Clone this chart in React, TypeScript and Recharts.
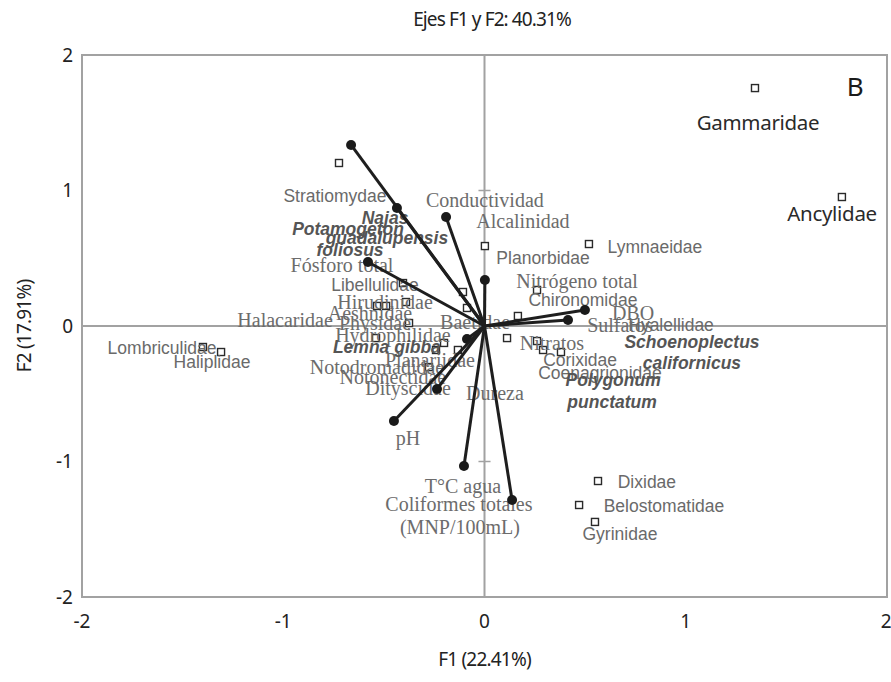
import React from 'react';
import {
  ScatterChart, Scatter, XAxis, YAxis, ReferenceLine, ReferenceArea, Label,
} from 'recharts';

// ---- data (F1, F2 coordinates) ----
const axisTicks = [-2, -1, 0, 1, 2];

// species / taxa points (open squares)
const taxaPoints = [
  { name: 'Gammaridae', x: 1.344, y: 1.756 },
  { name: 'Ancylidae', x: 1.776, y: 0.952 },
  { name: 'Lymnaeidae', x: 0.519, y: 0.605 },
  { name: 'Planorbidae', x: 0.002, y: 0.59 },
  { name: 'Chironomidae', x: 0.261, y: 0.266 },
  { name: 'Hyalellidae', x: 0.166, y: 0.074 },
  { name: 'Baetidae', x: 0.112, y: -0.089 },
  { name: 'Nitratos-sq', x: 0.261, y: -0.111 },
  { name: 'Corixidae', x: 0.291, y: -0.177 },
  { name: 'Coenagrionidae', x: 0.38, y: -0.192 },
  { name: 'Stratiomydae', x: -0.723, y: 1.203 },
  { name: 'a', x: -0.107, y: 0.251 },
  { name: 'b', x: -0.087, y: 0.133 },
  { name: 'Libellulidae', x: -0.405, y: 0.317 },
  { name: 'Aeshnidae', x: -0.534, y: 0.148 },
  { name: 'Aeshnidae2', x: -0.489, y: 0.148 },
  { name: 'Hirudinidae', x: -0.39, y: 0.177 },
  { name: 'Physidae', x: -0.375, y: 0.022 },
  { name: 'Hydrophilidae', x: -0.539, y: -0.089 },
  { name: 'c', x: -0.201, y: -0.125 },
  { name: 'd', x: -0.241, y: -0.177 },
  { name: 'Planariidae', x: -0.132, y: -0.177 },
  { name: 'Notodromadidae', x: -0.276, y: -0.303 },
  { name: 'Lombriculidae', x: -1.399, y: -0.155 },
  { name: 'Haliplidae', x: -1.309, y: -0.192 },
  { name: 'Dixidae', x: 0.564, y: -1.144 },
  { name: 'Belostomatidae', x: 0.47, y: -1.321 },
  { name: 'Gyrinidae', x: 0.549, y: -1.446 },
];

// environmental variables / plants (vectors from origin)
const vectorEnds = [
  { x: -0.663, y: 1.336 },
  { x: -0.435, y: 0.871 },
  { x: -0.191, y: 0.804 },
  { x: -0.579, y: 0.472 },
  { x: 0.002, y: 0.339 },
  { x: 0.499, y: 0.118 },
  { x: 0.415, y: 0.044 },
  { x: -0.087, y: -0.096 },
  { x: -0.236, y: -0.465 },
  { x: -0.45, y: -0.701 },
  { x: -0.102, y: -1.033 },
  { x: 0.137, y: -1.284 },
];

// label anchor points (F1, F2)
const taxaLabels = [
  { text: 'Lymnaeidae', x: 0.847, y: 0.583 },
  { text: 'Planorbidae', x: 0.291, y: 0.502 },
  { text: 'Chironomidae', x: 0.489, y: 0.192 },
  { text: 'Hyalellidae', x: 0.927, y: 0.007 },
  { text: 'Corixidae', x: 0.475, y: -0.251 },
  { text: 'Coenagrionidae', x: 0.574, y: -0.347 },
  { text: 'Stratiomydae', x: -0.743, y: 0.959 },
  { text: 'Libellulidae', x: -0.544, y: 0.303 },
  { text: 'Lombriculidae', x: -1.602, y: -0.162 },
  { text: 'Haliplidae', x: -1.354, y: -0.266 },
  { text: 'Dixidae', x: 0.807, y: -1.151 },
  { text: 'Belostomatidae', x: 0.892, y: -1.328 },
  { text: 'Gyrinidae', x: 0.673, y: -1.535 },
];

const variableLabels = [
  { text: 'Conductividad', x: 0.002, y: 0.93 },
  { text: 'Alcalinidad', x: 0.191, y: 0.775 },
  { text: 'Nitrógeno total', x: 0.46, y: 0.332 },
  { text: 'Fósforo total', x: -0.708, y: 0.45 },
  { text: 'DBO', x: 0.738, y: 0.096 },
  { text: 'Sulfatos', x: 0.673, y: 0.007 },
  { text: 'Nitratos', x: 0.335, y: -0.125 },
  { text: 'Dureza', x: 0.052, y: -0.494 },
  { text: 'pH', x: -0.38, y: -0.827 },
  { text: 'T°C agua', x: -0.107, y: -1.181 },
  { text: 'Coliformes totales', x: -0.127, y: -1.314 },
  { text: '(MNP/100mL)', x: -0.122, y: -1.483 },
  { text: 'Hirudinidae', x: -0.494, y: 0.177 },
  { text: 'Aeshnidae', x: -0.569, y: 0.096 },
  { text: 'Halacaridae', x: -0.991, y: 0.044 },
  { text: 'Physidae', x: -0.544, y: 0.022 },
  { text: 'Hydrophilidae', x: -0.455, y: -0.066 },
  { text: 'Baetidae', x: -0.047, y: 0.03 },
  { text: 'Planariidae', x: -0.271, y: -0.251 },
  { text: 'Notodromadidae', x: -0.534, y: -0.303 },
  { text: 'Notonectidae', x: -0.455, y: -0.376 },
  { text: 'Dityscidae', x: -0.38, y: -0.458 },
];

const plantLabels = [
  { text: 'Najas', x: -0.494, y: 0.797 },
  { text: 'Potamogeton', x: -0.678, y: 0.716 },
  { text: 'guadalupensis', x: -0.485, y: 0.649 },
  { text: 'foliosus', x: -0.668, y: 0.561 },
  { text: 'Lemna gibba', x: -0.485, y: -0.155 },
  { text: 'Schoenoplectus', x: 1.031, y: -0.118 },
  { text: 'californicus', x: 1.031, y: -0.273 },
  { text: 'Polygonum', x: 0.639, y: -0.399 },
  { text: 'punctatum', x: 0.634, y: -0.561 },
];

const bigLabels = [
  { text: 'Gammaridae', x: 1.359, y: 1.506 },
  { text: 'Ancylidae', x: 1.727, y: 0.834 },
];

const panelLabel = [{ text: 'B', x: 1.842, y: 1.771 }];

const TITLE = 'Ejes F1 y F2: 40.31%';
const X_TITLE = 'F1 (22.41%)';
const Y_TITLE = 'F2 (17.91%)';

// ---- styles ----
const AXIS = '#a2a2a2';
const MYRIAD = "'Noto Sans', 'Open Sans', sans-serif";

const makeText = (style: React.CSSProperties & { fill: string }) => (props: any) => {
  const { cx, cy, payload } = props;
  if (cx == null || cy == null) return <g />;
  return (
    <text
      x={cx}
      y={cy}
      textAnchor="middle"
      dominantBaseline="central"
      style={style}
      fill={style.fill}
    >
      {payload.text}
    </text>
  );
};

const squareShape = (props: any) => {
  const { cx, cy } = props;
  if (cx == null || cy == null) return <g />;
  return <rect x={cx - 3.5} y={cy - 3.5} width={7} height={7} fill="#fff" stroke="#2a2a2a" strokeWidth={1.4} />;
};

const endDot = (props: any) => {
  const { cx, cy, payload } = props;
  if (!payload.end) return <g />;
  return <circle cx={cx} cy={cy} r={5} fill="#1a1a1a" />;
};

export default function App() {
  return (
    <div style={{ position: 'absolute', left: 0, top: 0, width: 891, height: 682, background: '#fff' }}>
      <div
        style={{
          position: 'absolute', left: 92, width: 800, top: 6, textAlign: 'center',
          fontFamily: MYRIAD, fontSize: 19, color: '#222', letterSpacing: -0.9,
        }}
      >
        {TITLE}
      </div>
      <ScatterChart width={891} height={682} margin={{ top: 55, right: 4, bottom: 45, left: 32 }}>
        <XAxis
          type="number" dataKey="x" domain={[-2, 2]} ticks={axisTicks} allowDataOverflow
          axisLine={false} tickLine={false} height={40} tickMargin={12}
          tick={{ fontFamily: MYRIAD, fontSize: 19, fill: '#222' }}
        >
          <Label value={X_TITLE} position="bottom" offset={16}
            style={{ fontFamily: MYRIAD, fontSize: 19, fill: '#222', letterSpacing: -0.8 }} />
        </XAxis>
        <YAxis
          type="number" dataKey="y" domain={[-2, 2]} ticks={axisTicks} allowDataOverflow
          axisLine={false} tickLine={false} width={50} tickMargin={3}
          tick={{ fontFamily: MYRIAD, fontSize: 19, fill: '#222' }}
        >
          <Label value={Y_TITLE} angle={-90} position="left" offset={8}
            style={{ fontFamily: MYRIAD, fontSize: 19, fill: '#222', textAnchor: 'middle', letterSpacing: -0.8 }} />
        </YAxis>
        <ReferenceArea x1={-2} x2={2} y1={-2} y2={2} fill="#fff" fillOpacity={0} stroke={AXIS} strokeWidth={2} />
        <ReferenceLine x={0} stroke={AXIS} strokeWidth={2} />
        <ReferenceLine y={0} stroke={AXIS} strokeWidth={2} />
        <ReferenceLine segment={[{ x: -0.03, y: 1 }, { x: 0.03, y: 1 }]} stroke={AXIS} strokeWidth={1.5} />
        <ReferenceLine segment={[{ x: -0.03, y: -1 }, { x: 0.03, y: -1 }]} stroke={AXIS} strokeWidth={1.5} />

        <Scatter name="taxa" data={taxaPoints} shape={squareShape} isAnimationActive={false} />

        <Scatter name="taxaLabels" data={taxaLabels} isAnimationActive={false}
          shape={makeText({ fontFamily: "'Liberation Sans', Arial, sans-serif", fontSize: 17.5, fill: '#6a6a6a' })} />
        <Scatter name="variableLabels" data={variableLabels} isAnimationActive={false}
          shape={makeText({ fontFamily: "'Liberation Serif', 'Times New Roman', serif", fontSize: 20, fill: '#6c6c6c' })} />
        <Scatter name="plantLabels" data={plantLabels} isAnimationActive={false}
          shape={makeText({ fontFamily: "'Liberation Sans', Arial, sans-serif", fontSize: 17.5, fontWeight: 700, fontStyle: 'italic', fill: '#555' })} />
        <Scatter name="bigLabels" data={bigLabels} isAnimationActive={false}
          shape={makeText({ fontFamily: MYRIAD, fontSize: 20.5, fill: '#2a2a2a', letterSpacing: -0.3 })} />
        <Scatter name="panel" data={panelLabel} isAnimationActive={false}
          shape={makeText({ fontFamily: MYRIAD, fontSize: 26, fill: '#1a1a1a' })} />

        {vectorEnds.map((v, i) => (
          <Scatter
            key={i}
            name={`v${i}`}
            data={[{ x: 0, y: 0, end: false }, { x: v.x, y: v.y, end: true }]}
            line={{ stroke: '#1e1e1e', strokeWidth: 3 }}
            shape={endDot}
            isAnimationActive={false}
          />
        ))}
      </ScatterChart>
    </div>
  );
}
